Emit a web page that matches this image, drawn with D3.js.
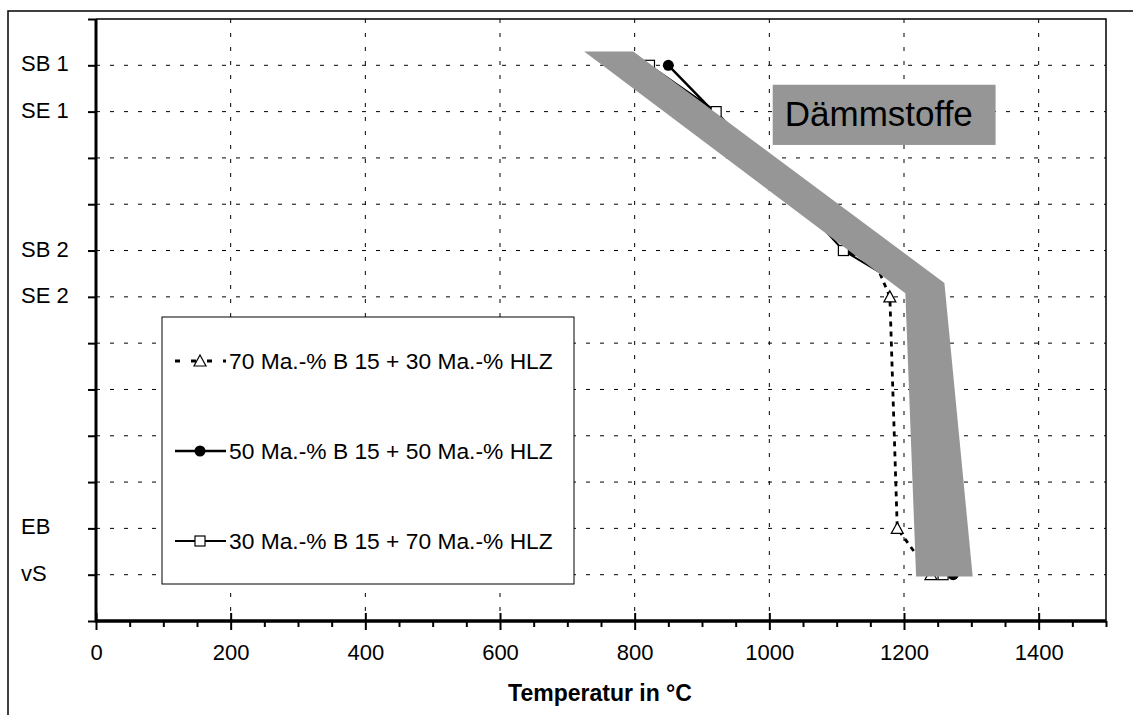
<!DOCTYPE html>
<html>
<head>
<meta charset="utf-8">
<script src="https://cdn.jsdelivr.net/npm/d3@7"></script>
<style>
  body { margin: 0; background: #fff; }
  svg { display: block; font-family: "Liberation Sans", Arial, sans-serif; }
</style>
</head>
<body>
<div id="chart"></div>
<script>
// stages of the fire test (y axis) and their position on the axis
var levelNames = ["SB 1", "SE 1", "SB 2", "SE 2", "EB", "vS"];
var levelPos = [12, 11, 8, 7, 2, 1];

// temperatures for each mixture
var mix70 = [790, 875, 1150, 1179, 1190, 1240];
var mix50 = [850, 917, 1125, 1230, 1250, 1273];
var mix30 = [822, 921, 1110, 1225, 1245, 1258];

var seriesNames = [
  "70 Ma.-% B 15 + 30 Ma.-% HLZ",
  "50 Ma.-% B 15 + 50 Ma.-% HLZ",
  "30 Ma.-% B 15 + 70 Ma.-% HLZ"
];

// grey band for insulating materials (temperature, level)
var bandTemp = [725, 798, 1260, 1302, 1218, 1202];
var bandLevel = [12.3, 12.3, 7.3, 0.96, 0.96, 7.08];

var xTicks = [0, 200, 400, 600, 800, 1000, 1200, 1400];

var width = 1133;
var height = 715;

// plot area
var plotL = 96, plotR = 1106, plotT = 19, plotB = 621;

var svg = d3.select("#chart")
  .append("svg")
  .attr("width", width)
  .attr("height", height);

var xScale = d3.scaleLinear().domain([0, 1500]).range([plotL, plotR]);
var yScale = d3.scaleLinear().domain([0, 13]).range([plotB, plotT]);

// outer frame of the chart area
svg.append("path")
  .attr("d", "M8," + height + "L8,11L" + width + ",11")
  .attr("fill", "none")
  .attr("stroke", "#000")
  .attr("stroke-width", 1.5);

// grid lines
var grid = svg.append("g").attr("stroke", "#000").attr("stroke-width", 1).attr("stroke-dasharray", "4,10");
d3.range(1, 13).forEach(function(v) {
  grid.append("line")
    .attr("x1", plotL).attr("x2", plotR)
    .attr("y1", yScale(v)).attr("y2", yScale(v));
});
xTicks.slice(1).forEach(function(v) {
  grid.append("line")
    .attr("x1", xScale(v)).attr("x2", xScale(v))
    .attr("y1", plotT).attr("y2", plotB);
});

// top and right border of the plot
svg.append("path")
  .attr("d", "M" + plotL + "," + plotT + "L" + plotR + "," + plotT + "L" + plotR + "," + plotB)
  .attr("fill", "none")
  .attr("stroke", "#000")
  .attr("stroke-width", 1.5);

// series
var line = d3.line()
  .x(function(d) { return xScale(d[0]); })
  .y(function(d) { return yScale(d[1]); });

function points(temps) {
  return temps.map(function(t, i) { return [t, levelPos[i]]; });
}

var triPath = "M0,-6L6,5L-6,5Z";

function drawMarker(g, kind, x, y) {
  if (kind === "tri") {
    g.append("path")
      .attr("d", triPath)
      .attr("transform", "translate(" + x + "," + y + ")")
      .attr("fill", "#fff").attr("stroke", "#000").attr("stroke-width", 1.2);
  } else if (kind === "circle") {
    g.append("circle")
      .attr("cx", x).attr("cy", y).attr("r", 5.5)
      .attr("fill", "#000");
  } else {
    g.append("rect")
      .attr("x", x - 5).attr("y", y - 5)
      .attr("width", 10).attr("height", 10)
      .attr("fill", "#fff").attr("stroke", "#000").attr("stroke-width", 1.2);
  }
}

var series = [
  { data: mix70, kind: "tri", dash: "5,5", w: 2.8 },
  { data: mix50, kind: "circle", dash: null, w: 2.4 },
  { data: mix30, kind: "square", dash: null, w: 2 }
];

var seriesG = svg.append("g");
series.forEach(function(s) {
  var pts = points(s.data);
  seriesG.append("path")
    .attr("d", line(pts))
    .attr("fill", "none")
    .attr("stroke", "#000")
    .attr("stroke-width", s.w)
    .attr("stroke-dasharray", s.dash);
  pts.forEach(function(p) {
    drawMarker(seriesG, s.kind, xScale(p[0]), yScale(p[1]));
  });
});

// the grey band on top
var band = bandTemp.map(function(t, i) { return [t, bandLevel[i]]; });
svg.append("path")
  .attr("d", line(band) + "Z")
  .attr("fill", "#969696");

// label box
svg.append("rect")
  .attr("x", xScale(1005)).attr("y", yScale(11.58))
  .attr("width", xScale(1336) - xScale(1005))
  .attr("height", yScale(10.28) - yScale(11.58))
  .attr("fill", "#969696");
svg.append("text")
  .attr("x", xScale(1023))
  .attr("y", yScale(10.7))
  .attr("font-size", 35)
  .attr("fill", "#000")
  .text("Dämmstoffe");

// axes
var xAxis = d3.axisBottom(xScale).tickValues(xTicks).tickSize(9).tickPadding(14).tickFormat(d3.format("d"));
var xMinor = d3.axisBottom(xScale)
  .tickValues(d3.range(50, 1501, 50).filter(function(v) { return v % 200 !== 0; }))
  .tickSize(6).tickFormat("");

var gxm = svg.append("g")
  .attr("transform", "translate(0," + plotB + ")")
  .call(xMinor);
var gx = svg.append("g")
  .attr("transform", "translate(0," + plotB + ")")
  .call(xAxis);
gx.selectAll(".tick line").attr("y1", -8);
[gx, gxm].forEach(function(g) {
  g.select(".domain").attr("stroke-width", 3).attr("d", "M" + plotL + ",0H" + plotR);
  g.selectAll(".tick line").attr("stroke-width", 2);
});
gx.selectAll("text")
  .attr("font-size", 22)
  .attr("font-family", "Liberation Sans, Arial, sans-serif")
  .attr("fill", "#000");

var labelFor = {};
levelPos.forEach(function(p, i) { labelFor[p] = levelNames[i]; });

var yAxis = d3.axisLeft(yScale)
  .tickValues(d3.range(0, 14))
  .tickSize(8)
  .tickFormat(function(d) { return labelFor[d] || ""; });
var gy = svg.append("g")
  .attr("transform", "translate(" + plotL + ",0)")
  .call(yAxis);
gy.select(".domain").attr("stroke-width", 3).attr("d", "M0," + plotT + "V" + (plotB + 1.5));
gy.selectAll(".tick line").attr("stroke-width", 2);
gy.selectAll("text")
  .attr("x", 21 - plotL)
  .attr("dy", "0.25em")
  .attr("text-anchor", "start")
  .attr("font-size", 22)
  .attr("font-family", "Liberation Sans, Arial, sans-serif")
  .attr("fill", "#000");

// axis title
svg.append("text")
  .attr("x", 600)
  .attr("y", 701)
  .attr("text-anchor", "middle")
  .attr("font-size", 23)
  .attr("font-weight", "bold")
  .text("Temperatur in °C");

// legend
var legend = svg.append("g");
legend.append("rect")
  .attr("x", 162).attr("y", 317)
  .attr("width", 412).attr("height", 267)
  .attr("fill", "#fff")
  .attr("stroke", "#000")
  .attr("stroke-width", 1);

series.forEach(function(s, i) {
  var ly = 361 + i * 90;
  legend.append("line")
    .attr("x1", 175).attr("x2", 226)
    .attr("y1", ly).attr("y2", ly)
    .attr("stroke", "#000")
    .attr("stroke-width", s.w)
    .attr("stroke-dasharray", s.dash ? "5,11" : null);
  drawMarker(legend, s.kind, 200, ly);
  legend.append("text")
    .attr("x", 229)
    .attr("y", ly + 8)
    .attr("font-size", 22.8)
    .text(seriesNames[i]);
});
</script>
</body>
</html>
